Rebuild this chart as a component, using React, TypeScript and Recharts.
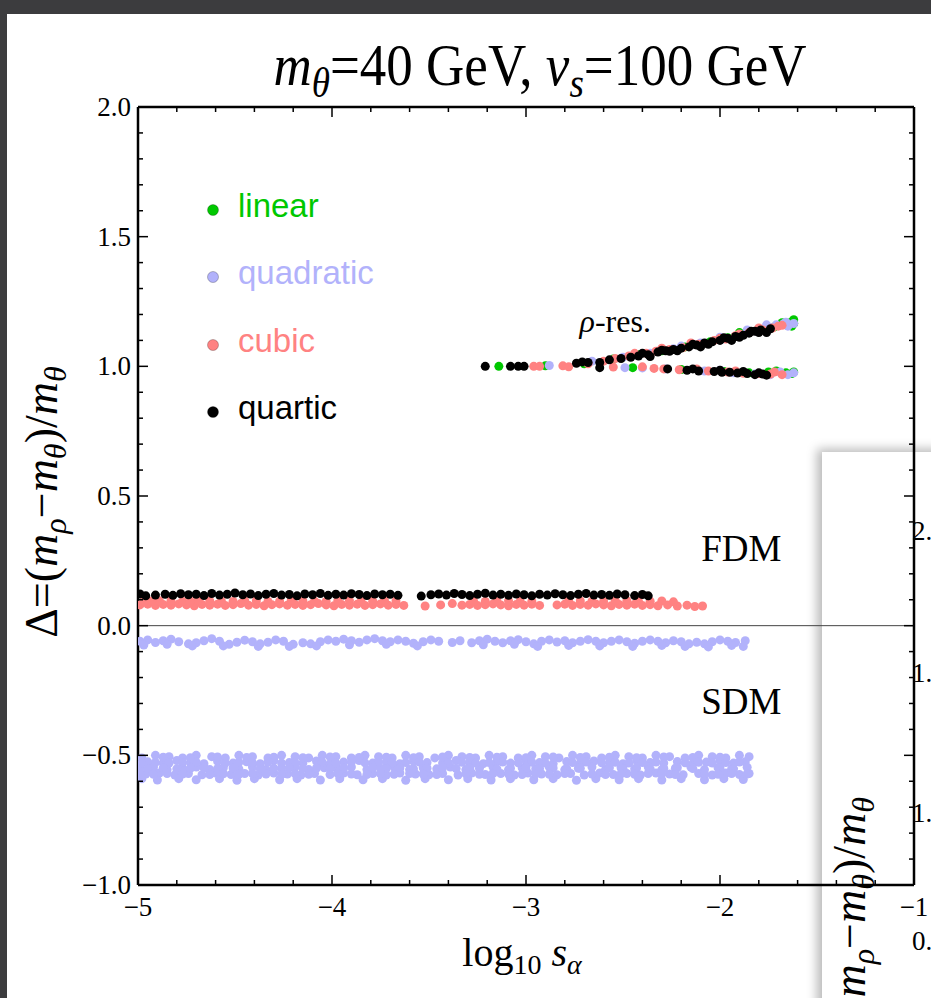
import React from "react";
import {
  ScatterChart,
  Scatter,
  XAxis,
  YAxis,
  ReferenceLine,
  ReferenceDot,
  Legend,
} from "recharts";

const SERIF = '"Liberation Serif", "Times New Roman", serif';
const SANS = '"Liberation Sans", Arial, sans-serif';

// axis ticks (minor + major) and labels
const xTicks = [-5, -4.8, -4.6, -4.4, -4.2, -4, -3.8, -3.6, -3.4, -3.2, -3, -2.8, -2.6, -2.4, -2.2, -2, -1.8, -1.6, -1.4, -1.2, -1];
const xMajor = [-5, -4, -3, -2, -1];
const xLabels = ["\u22125", "\u22124", "\u22123", "\u22122", "\u22121"];
const yTicks = [-1, -0.9, -0.8, -0.7, -0.6, -0.5, -0.4, -0.3, -0.2, -0.1, 0, 0.1, 0.2, 0.3, 0.4, 0.5, 0.6, 0.7, 0.8, 0.9, 1, 1.1, 1.2, 1.3, 1.4, 1.5, 1.6, 1.7, 1.8, 1.9, 2];
const yMajor = [-1, -0.5, 0, 0.5, 1, 1.5, 2];
const yLabels = ["\u22121.0", "\u22120.5", "0.0", "0.5", "1.0", "1.5", "2.0"];

const seriesNames = ["linear", "quadratic", "cubic", "quartic"];
const seriesColors = ["#00c800", "#b2b2fb", "#ff8282", "#000000"];

// linear: only the rho-resonance branches
const linearRho = [
  [-3.14, 1.0], [-2.9, 1.002], [-2.7, 1.01], [-2.55, 1.028], [-2.42, 1.045], [-2.3, 1.06], [-2.18, 1.075],
  [-2.05, 1.095], [-1.96, 1.11], [-1.88, 1.125], [-1.79, 1.14], [-1.72, 1.152], [-1.66, 1.16], [-1.63, 1.172],
  [-1.62, 1.18], [-1.63, 1.155], [-1.62, 1.165], [-1.68, 1.168], [-1.9, 1.13],
  [-2.45, 0.995], [-2.2, 0.988], [-1.98, 0.98], [-1.85, 0.975], [-1.75, 0.978],
  [-1.71, 0.982], [-1.66, 0.975], [-1.63, 0.972], [-1.62, 0.978],
];

// quadratic
const quadUpper = [
  [-4.99, -0.06], [-4.95, -0.055], [-4.91, -0.065], [-4.87, -0.058], [-4.83, -0.052], [-4.79, -0.062], [-4.74, -0.07],
  [-4.7, -0.066], [-4.66, -0.058], [-4.62, -0.05], [-4.58, -0.06], [-4.53, -0.072], [-4.49, -0.064], [-4.45, -0.056],
  [-4.41, -0.062], [-4.37, -0.07], [-4.33, -0.064], [-4.29, -0.055], [-4.25, -0.06], [-4.2, -0.072], [-4.15, -0.066],
  [-4.11, -0.07], [-4.06, -0.062], [-4.02, -0.055], [-3.98, -0.06], [-3.94, -0.052], [-3.9, -0.058], [-3.86, -0.064],
  [-3.82, -0.055], [-3.78, -0.05], [-3.74, -0.058], [-3.7, -0.062], [-3.66, -0.055], [-3.62, -0.06], [-3.58, -0.068],
  [-3.53, -0.062], [-3.49, -0.055], [-3.45, -0.06], [-3.38, -0.065], [-3.34, -0.058], [-3.28, -0.066], [-3.24, -0.058],
  [-3.2, -0.052], [-3.16, -0.06], [-3.12, -0.066], [-3.08, -0.058], [-3.04, -0.054], [-3.0, -0.062], [-2.96, -0.07],
  [-2.92, -0.06], [-2.88, -0.055], [-2.84, -0.063], [-2.8, -0.058], [-2.76, -0.066], [-2.72, -0.06], [-2.68, -0.054],
  [-2.64, -0.06], [-2.6, -0.066], [-2.56, -0.06], [-2.52, -0.055], [-2.48, -0.062], [-2.44, -0.068], [-2.4, -0.06],
  [-2.36, -0.055], [-2.32, -0.06], [-2.28, -0.066], [-2.24, -0.058], [-2.2, -0.062], [-2.16, -0.07], [-2.12, -0.064],
  [-2.08, -0.07], [-2.04, -0.062], [-2.0, -0.055], [-1.96, -0.06], [-1.92, -0.065], [-1.87, -0.058],
  [-4.97, -0.075], [-4.85, -0.072], [-4.72, -0.078], [-4.56, -0.078], [-4.38, -0.08], [-4.22, -0.08], [-4.08, -0.078],
  [-3.91, -0.074], [-3.72, -0.072], [-3.56, -0.078], [-3.22, -0.074], [-3.06, -0.072], [-2.94, -0.08], [-2.78, -0.076],
  [-2.62, -0.078], [-2.45, -0.08], [-2.3, -0.076], [-2.18, -0.08], [-2.06, -0.082], [-1.94, -0.076], [-1.88, -0.08],
];

const quadLower = [
  [-4.98, -0.51], [-4.91, -0.5], [-4.84, -0.505], [-4.77, -0.51], [-4.7, -0.5], [-4.62, -0.505], [-4.55, -0.51],
  [-4.48, -0.5], [-4.41, -0.505], [-4.33, -0.51], [-4.26, -0.5], [-4.19, -0.505], [-4.12, -0.51], [-4.05, -0.5],
  [-3.98, -0.505], [-3.9, -0.51], [-3.83, -0.5], [-3.76, -0.505], [-3.69, -0.51], [-3.62, -0.5], [-3.55, -0.505],
  [-3.47, -0.51], [-3.4, -0.5], [-3.33, -0.505], [-3.26, -0.51], [-3.19, -0.5], [-3.12, -0.505], [-3.04, -0.51],
  [-2.97, -0.5], [-2.9, -0.505], [-2.83, -0.51], [-2.76, -0.5], [-2.69, -0.505], [-2.61, -0.51], [-2.54, -0.5],
  [-2.47, -0.505], [-2.4, -0.51], [-2.33, -0.5], [-2.26, -0.505], [-2.18, -0.51], [-2.11, -0.5], [-2.04, -0.505],
  [-1.97, -0.51], [-1.9, -0.5], [-1.85, -0.505],
  [-4.95, -0.525], [-4.87, -0.53], [-4.8, -0.52], [-4.73, -0.528], [-4.66, -0.532], [-4.59, -0.522], [-4.51, -0.53],
  [-4.44, -0.525], [-4.37, -0.532], [-4.3, -0.52], [-4.22, -0.528], [-4.15, -0.53], [-4.08, -0.522], [-4.01, -0.532],
  [-3.94, -0.526], [-3.86, -0.52], [-3.79, -0.53], [-3.72, -0.525], [-3.65, -0.532], [-3.58, -0.522], [-3.51, -0.528],
  [-3.43, -0.53], [-3.36, -0.52], [-3.29, -0.528], [-3.22, -0.532], [-3.15, -0.524], [-3.08, -0.53], [-3.0, -0.52],
  [-2.93, -0.528], [-2.86, -0.532], [-2.79, -0.524], [-2.72, -0.53], [-2.65, -0.522], [-2.57, -0.528], [-2.5, -0.532],
  [-2.43, -0.52], [-2.36, -0.528], [-2.29, -0.53], [-2.22, -0.524], [-2.14, -0.532], [-2.07, -0.526], [-2.0, -0.52],
  [-1.93, -0.53], [-1.87, -0.525],
  [-4.99, -0.55], [-4.92, -0.545], [-4.85, -0.555], [-4.77, -0.55], [-4.7, -0.545], [-4.63, -0.555], [-4.56, -0.548],
  [-4.48, -0.552], [-4.41, -0.545], [-4.34, -0.555], [-4.26, -0.55], [-4.19, -0.545], [-4.12, -0.555], [-4.04, -0.548],
  [-3.97, -0.552], [-3.9, -0.545], [-3.82, -0.555], [-3.75, -0.55], [-3.68, -0.545], [-3.6, -0.555], [-3.53, -0.548],
  [-3.46, -0.552], [-3.39, -0.545], [-3.31, -0.555], [-3.24, -0.55], [-3.17, -0.545], [-3.09, -0.555], [-3.02, -0.548],
  [-2.95, -0.552], [-2.88, -0.545], [-2.8, -0.555], [-2.73, -0.55], [-2.66, -0.545], [-2.59, -0.555], [-2.51, -0.548],
  [-2.44, -0.552], [-2.37, -0.545], [-2.3, -0.555], [-2.23, -0.55], [-2.15, -0.545], [-2.08, -0.555], [-2.01, -0.548],
  [-1.94, -0.552], [-1.86, -0.546],
  [-4.96, -0.572], [-4.89, -0.568], [-4.81, -0.576], [-4.74, -0.57], [-4.67, -0.575], [-4.6, -0.568], [-4.52, -0.574],
  [-4.45, -0.57], [-4.38, -0.576], [-4.3, -0.568], [-4.23, -0.572], [-4.16, -0.576], [-4.09, -0.57], [-4.01, -0.574],
  [-3.94, -0.568], [-3.87, -0.575], [-3.79, -0.57], [-3.72, -0.576], [-3.65, -0.568], [-3.57, -0.572], [-3.5, -0.575],
  [-3.43, -0.57], [-3.35, -0.576], [-3.28, -0.568], [-3.21, -0.574], [-3.13, -0.57], [-3.06, -0.576], [-2.99, -0.568],
  [-2.92, -0.572], [-2.84, -0.575], [-2.77, -0.57], [-2.7, -0.576], [-2.62, -0.568], [-2.55, -0.574], [-2.48, -0.57],
  [-2.41, -0.576], [-2.33, -0.568], [-2.26, -0.572], [-2.19, -0.575], [-2.11, -0.57], [-2.04, -0.576], [-1.97, -0.568],
  [-1.9, -0.574], [-1.85, -0.57],
  [-4.98, -0.59], [-4.9, -0.595], [-4.79, -0.59], [-4.7, -0.594], [-4.58, -0.59], [-4.49, -0.596], [-4.4, -0.59],
  [-4.27, -0.594], [-4.18, -0.59], [-4.06, -0.595], [-3.96, -0.59], [-3.84, -0.594], [-3.74, -0.59], [-3.62, -0.596],
  [-3.52, -0.59], [-3.4, -0.594], [-3.3, -0.59], [-3.18, -0.595], [-3.08, -0.59], [-2.96, -0.594], [-2.86, -0.59],
  [-2.74, -0.596], [-2.64, -0.59], [-2.52, -0.594], [-2.42, -0.59], [-2.3, -0.595], [-2.2, -0.59], [-2.08, -0.594],
  [-1.98, -0.59], [-1.88, -0.593],
];

// extra points that thicken the lower quadratic band
const quadLowerFill = [
  [-4.87, -0.507], [-4.73, -0.509], [-4.59, -0.506], [-4.44, -0.508], [-4.3, -0.507], [-4.15, -0.509], [-4.01, -0.506],
  [-3.86, -0.508], [-3.72, -0.507], [-3.58, -0.509], [-3.43, -0.506], [-3.29, -0.508], [-3.15, -0.507], [-3.0, -0.509],
  [-2.86, -0.506], [-2.72, -0.508], [-2.57, -0.507], [-2.43, -0.509], [-2.29, -0.506], [-2.14, -0.508], [-2.0, -0.507],
  [-4.98, -0.529], [-4.91, -0.527], [-4.84, -0.53], [-4.77, -0.528], [-4.7, -0.526], [-4.55, -0.53], [-4.48, -0.527],
  [-4.41, -0.529], [-4.33, -0.526], [-4.26, -0.53], [-4.19, -0.528], [-4.05, -0.527], [-3.98, -0.53], [-3.9, -0.526],
  [-3.83, -0.529], [-3.76, -0.527], [-3.69, -0.53], [-3.62, -0.528], [-3.55, -0.526], [-3.4, -0.529], [-3.33, -0.527],
  [-3.26, -0.53], [-3.19, -0.528], [-3.12, -0.526], [-3.04, -0.529], [-2.97, -0.527], [-2.9, -0.53], [-2.76, -0.528],
  [-2.69, -0.526], [-2.61, -0.529], [-2.54, -0.527], [-2.47, -0.53], [-2.4, -0.528], [-2.33, -0.526], [-2.18, -0.529],
  [-2.11, -0.527], [-2.04, -0.53], [-1.97, -0.528], [-1.9, -0.526],
  [-4.95, -0.551], [-4.87, -0.549], [-4.8, -0.552], [-4.73, -0.55], [-4.66, -0.548], [-4.59, -0.551], [-4.51, -0.549],
  [-4.37, -0.552], [-4.3, -0.55], [-4.22, -0.548], [-4.15, -0.551], [-4.08, -0.549], [-4.01, -0.552], [-3.94, -0.55],
  [-3.79, -0.548], [-3.72, -0.551], [-3.65, -0.549], [-3.58, -0.552], [-3.51, -0.55], [-3.43, -0.548], [-3.36, -0.551],
  [-3.29, -0.549], [-3.15, -0.552], [-3.08, -0.55], [-3.0, -0.548], [-2.93, -0.551], [-2.86, -0.549], [-2.79, -0.552],
  [-2.72, -0.55], [-2.57, -0.548], [-2.5, -0.551], [-2.43, -0.549], [-2.36, -0.552], [-2.29, -0.55], [-2.22, -0.548],
  [-2.14, -0.551], [-2.0, -0.549], [-1.93, -0.552],
  [-4.99, -0.571], [-4.92, -0.573], [-4.85, -0.57], [-4.77, -0.572], [-4.63, -0.574], [-4.56, -0.571], [-4.48, -0.573],
  [-4.41, -0.57], [-4.34, -0.572], [-4.26, -0.574], [-4.19, -0.571], [-4.12, -0.573], [-3.97, -0.57], [-3.9, -0.572],
  [-3.82, -0.574], [-3.75, -0.571], [-3.68, -0.573], [-3.6, -0.57], [-3.53, -0.572], [-3.46, -0.574], [-3.31, -0.571],
  [-3.24, -0.573], [-3.17, -0.57], [-3.09, -0.572], [-3.02, -0.574], [-2.95, -0.571], [-2.88, -0.573], [-2.8, -0.57],
  [-2.66, -0.572], [-2.59, -0.574], [-2.51, -0.571], [-2.44, -0.573], [-2.37, -0.57], [-2.3, -0.572], [-2.23, -0.574],
  [-2.08, -0.571], [-2.01, -0.573], [-1.94, -0.57], [-1.86, -0.572],
];

const quadRho = [
  [-2.88, 1.003], [-2.66, 1.02], [-2.49, 0.995], [-2.4, 0.994], [-2.36, 1.05], [-2.24, 1.068], [-2.1, 1.09],
  [-1.99, 1.105], [-1.9, 1.12], [-1.81, 1.135], [-1.74, 1.15], [-1.71, 1.16], [-1.67, 1.165], [-1.65, 1.155],
  [-2.5, 1.035], [-2.2, 1.078], [-2.0, 1.112], [-1.86, 1.14], [-1.76, 1.16], [-1.66, 1.17], [-1.62, 1.165],
  [-2.28, 0.99], [-2.08, 0.982], [-1.93, 0.975], [-1.82, 0.97], [-1.69, 0.978], [-1.65, 0.968],
  [-2.0, 0.985], [-1.74, 0.968], [-1.62, 0.975],
];

// cubic
const cubicBand = [
  [-4.99, 0.08], [-4.95, 0.083], [-4.91, 0.078], [-4.87, 0.082], [-4.83, 0.079], [-4.79, 0.084], [-4.75, 0.08],
  [-4.71, 0.077], [-4.67, 0.082], [-4.63, 0.079], [-4.59, 0.083], [-4.55, 0.078], [-4.51, 0.081], [-4.47, 0.085],
  [-4.43, 0.079], [-4.39, 0.082], [-4.35, 0.077], [-4.31, 0.081], [-4.27, 0.084], [-4.23, 0.079], [-4.19, 0.082],
  [-4.15, 0.078], [-4.11, 0.081], [-4.07, 0.085], [-4.03, 0.08], [-3.99, 0.077], [-3.95, 0.082], [-3.91, 0.079],
  [-3.87, 0.083], [-3.83, 0.078], [-3.79, 0.081], [-3.75, 0.084], [-3.71, 0.079], [-3.67, 0.082], [-3.63, 0.078],
  [-3.52, 0.076], [-3.44, 0.08], [-3.38, 0.085], [-3.33, 0.079], [-3.29, 0.082], [-3.25, 0.078], [-3.21, 0.081],
  [-3.17, 0.084], [-3.13, 0.08], [-3.09, 0.077], [-3.05, 0.082], [-3.01, 0.079], [-2.97, 0.083], [-2.93, 0.078],
  [-2.84, 0.08], [-2.8, 0.083], [-2.76, 0.078], [-2.72, 0.082], [-2.68, 0.079], [-2.64, 0.084], [-2.6, 0.08],
  [-2.56, 0.077], [-2.52, 0.082], [-2.48, 0.079], [-2.44, 0.083], [-2.4, 0.078], [-2.36, 0.081], [-2.32, 0.077],
  [-2.27, 0.08], [-2.22, 0.076], [-2.17, 0.079], [-2.13, 0.074], [-2.09, 0.076],
  [-4.97, 0.094], [-4.89, 0.096], [-4.77, 0.093], [-4.69, 0.097], [-4.57, 0.094], [-4.45, 0.096], [-4.33, 0.093],
  [-4.21, 0.097], [-4.09, 0.094], [-3.97, 0.096], [-3.85, 0.093], [-3.73, 0.097], [-3.27, 0.094], [-3.15, 0.096],
  [-3.03, 0.093], [-2.78, 0.096], [-2.66, 0.094], [-2.54, 0.097], [-2.42, 0.093], [-2.3, 0.095],
  [-4.93, 0.095], [-4.83, 0.096], [-4.73, 0.094], [-4.63, 0.095], [-4.51, 0.093], [-4.39, 0.096], [-4.27, 0.094],
  [-4.15, 0.095], [-4.03, 0.093], [-3.91, 0.096], [-3.79, 0.094], [-3.67, 0.095], [-3.21, 0.093], [-3.09, 0.096],
  [-2.97, 0.094], [-2.72, 0.095], [-2.6, 0.093], [-2.48, 0.096], [-2.36, 0.094], [-2.24, 0.092],
];

const cubicRho = [
  [-2.96, 1.0], [-2.93, 1.0], [-2.81, 1.002], [-2.78, 0.998], [-2.68, 1.01], [-2.6, 1.02], [-2.54, 1.03],
  [-2.47, 1.04], [-2.38, 1.05], [-2.33, 1.058], [-2.26, 1.065], [-2.19, 1.072], [-2.11, 1.085], [-2.03, 1.1],
  [-1.97, 1.105], [-1.92, 1.118], [-1.85, 1.13], [-1.78, 1.14], [-1.73, 1.148], [-1.68, 1.158],
  [-2.44, 1.05], [-2.3, 1.07], [-2.15, 1.09], [-2.0, 1.108], [-1.9, 1.125], [-1.8, 1.148], [-1.7, 1.155],
  [-2.55, 0.997], [-2.34, 0.992], [-2.29, 0.99], [-2.21, 0.987], [-2.06, 0.982], [-1.96, 0.978], [-1.88, 0.973],
  [-1.8, 0.972], [-1.74, 0.97], [-1.68, 0.968], [-2.4, 0.998], [-2.12, 0.99], [-1.92, 0.982], [-1.72, 0.978],
];

// quartic
const quarticBand = [
  [-4.99, 0.122], [-4.96, 0.115], [-4.91, 0.118], [-4.86, 0.121], [-4.82, 0.117], [-4.78, 0.123], [-4.74, 0.119],
  [-4.7, 0.121], [-4.66, 0.116], [-4.62, 0.124], [-4.58, 0.118], [-4.54, 0.121], [-4.5, 0.126], [-4.46, 0.119],
  [-4.42, 0.122], [-4.38, 0.116], [-4.34, 0.121], [-4.3, 0.124], [-4.26, 0.118], [-4.22, 0.12], [-4.18, 0.115],
  [-4.14, 0.122], [-4.1, 0.119], [-4.06, 0.124], [-4.02, 0.117], [-3.98, 0.121], [-3.94, 0.118], [-3.9, 0.123],
  [-3.86, 0.12], [-3.82, 0.116], [-3.78, 0.122], [-3.74, 0.119], [-3.7, 0.121], [-3.66, 0.117], [-3.54, 0.114],
  [-3.49, 0.119], [-3.45, 0.122], [-3.41, 0.118], [-3.37, 0.124], [-3.33, 0.12], [-3.29, 0.116], [-3.25, 0.121],
  [-3.21, 0.125], [-3.17, 0.118], [-3.13, 0.121], [-3.09, 0.117], [-3.05, 0.122], [-3.01, 0.119], [-2.97, 0.115],
  [-2.93, 0.121], [-2.89, 0.118], [-2.85, 0.123], [-2.81, 0.119], [-2.77, 0.116], [-2.73, 0.121], [-2.69, 0.124],
  [-2.65, 0.118], [-2.61, 0.12], [-2.57, 0.117], [-2.53, 0.122], [-2.49, 0.119], [-2.44, 0.116], [-2.4, 0.12],
  [-2.37, 0.115],
];

const quarticRho = [
  [-3.21, 1.0], [-3.08, 1.0], [-3.04, 1.0], [-3.01, 1.0], [-2.74, 1.012], [-2.71, 1.017], [-2.68, 1.015],
  [-2.62, 1.015], [-2.62, 0.995], [-2.57, 1.025], [-2.51, 1.03], [-2.46, 1.035], [-2.42, 1.04], [-2.37, 1.045],
  [-2.32, 1.055], [-2.28, 1.06], [-2.24, 1.065], [-2.2, 1.07], [-2.16, 1.075], [-2.12, 1.082], [-2.08, 1.09],
  [-2.04, 1.095], [-2.0, 1.1], [-1.96, 1.108], [-1.92, 1.115], [-1.88, 1.12], [-1.85, 1.128], [-1.82, 1.135],
  [-1.79, 1.14], [-1.76, 1.13], [-1.74, 1.145],
  [-2.4, 1.05], [-2.3, 1.062], [-2.22, 1.06], [-2.14, 1.085], [-2.06, 1.085], [-1.98, 1.11], [-1.9, 1.112],
  [-1.84, 1.135], [-1.8, 1.13], [-1.94, 1.1], [-2.1, 1.075], [-2.26, 1.058], [-2.36, 1.038],
  [-2.27, 0.99], [-2.17, 0.985], [-2.11, 0.982], [-2.03, 0.98], [-1.99, 0.977], [-1.95, 0.977], [-1.91, 0.974],
  [-1.86, 0.972], [-1.82, 0.968], [-1.78, 0.97], [-1.76, 0.966], [-2.0, 0.985], [-1.88, 0.98], [-1.8, 0.975],
  [-2.14, 0.99],
];

const toPts = (arr: number[][]) => arr.map(([x, y]) => ({ x, y }));

const seriesData = [
  toPts(linearRho),
  toPts([...quadUpper, ...quadLower, ...quadLowerFill, ...quadRho]),
  toPts([...cubicBand, ...cubicRho]),
  toPts([...quarticBand, ...quarticRho]),
];

const near = (a: number, b: number) => Math.abs(a - b) < 1e-6;
const majorIndex = (v: number, majors: number[]) => majors.findIndex((m) => near(m, v));

const MAJOR = 10;
const MINOR = 5;

function BottomTick(p: any) {
  const i = majorIndex(p.payload.value, xMajor);
  return (
    <g>
      <line x1={p.x} x2={p.x} y1={p.y} y2={p.y - (i >= 0 ? MAJOR : MINOR)} stroke="#000" strokeWidth={1.5} />
      {i >= 0 && (
        <text x={p.x} y={p.y + 31} textAnchor="middle" fontFamily={SERIF} fontSize={27} fill="#000">
          {xLabels[i]}
        </text>
      )}
    </g>
  );
}

function TopTick(p: any) {
  const i = majorIndex(p.payload.value, xMajor);
  return <line x1={p.x} x2={p.x} y1={p.y} y2={p.y + (i >= 0 ? MAJOR : MINOR)} stroke="#000" strokeWidth={1.5} />;
}

function LeftTick(p: any) {
  const i = majorIndex(p.payload.value, yMajor);
  return (
    <g>
      <line x1={p.x} x2={p.x + (i >= 0 ? MAJOR : MINOR)} y1={p.y} y2={p.y} stroke="#000" strokeWidth={1.5} />
      {i >= 0 && (
        <text x={p.x - 7} y={p.y + 9} textAnchor="end" fontFamily={SERIF} fontSize={27} fill="#000">
          {yLabels[i]}
        </text>
      )}
    </g>
  );
}

function RightTick(p: any) {
  const i = majorIndex(p.payload.value, yMajor);
  return <line x1={p.x} x2={p.x - (i >= 0 ? MAJOR : MINOR)} y1={p.y} y2={p.y} stroke="#000" strokeWidth={1.5} />;
}

const dotShape = (color: string) => (p: any) => <circle cx={p.cx} cy={p.cy} r={4.5} fill={color} />;

function renderLegend(props: any) {
  const items = [...(props.payload ?? [])].sort(
    (a: any, b: any) => seriesNames.indexOf(a.value) - seriesNames.indexOf(b.value)
  );
  return (
    <div style={{ display: "flex", flexDirection: "column" }}>
      {items.map((e: any) => {
        const idx = seriesNames.indexOf(e.value);
        const color = idx >= 0 ? seriesColors[idx] : e.color;
        return (
          <div key={e.value} style={{ height: 67.5, display: "flex", alignItems: "center" }}>
            <svg width={24} height={24}>
              <circle cx={12} cy={12} r={5.5} fill={color} stroke="rgba(0,0,0,0.3)" strokeWidth={0.8} />
            </svg>
            <span
              style={{
                marginLeft: 13,
                fontFamily: SANS,
                fontSize: 33,
                color,
                position: "relative",
                top: -4,
                whiteSpace: "nowrap",
              }}
            >
              {e.value}
            </span>
          </div>
        );
      })}
    </div>
  );
}

const rhoLabel = (p: any) => (
  <text x={p.viewBox.x} y={p.viewBox.y + 10} textAnchor="middle" fontFamily={SERIF} fontSize={32} fill="#000">
    <tspan fontStyle="italic">ρ</tspan>-res.
  </text>
);

const sub = { fontSize: "0.7em", verticalAlign: "-0.28em", lineHeight: 0 } as const;

const frameLine = { stroke: "#000", strokeWidth: 2.5 };

export default function App() {
  return (
    <div
      style={{
        position: "absolute",
        left: 0,
        top: 0,
        width: 931,
        height: 998,
        overflow: "hidden",
        background: "#3c3c3e",
      }}
    >
      <div style={{ position: "absolute", left: 7, top: 14, right: 0, bottom: 0, background: "#fff" }} />

      {/* second figure peeking out underneath */}
      <div
        style={{
          position: "absolute",
          left: 822,
          top: 452,
          width: 160,
          height: 600,
          background: "#fff",
          boxShadow: "-5px -3px 10px rgba(0,0,0,0.28)",
        }}
      >
        <svg width={160} height={600}>
          <g fontFamily={SERIF} fontSize={27} fill="#000">
            <text x={90} y={88}>2.</text>
            <text x={90} y={230}>1.</text>
            <text x={90} y={370}>1.</text>
            <text x={90} y={498}>0.</text>
          </g>
          <text transform="translate(43,345) rotate(-90)" textAnchor="end" fontFamily={SERIF} fontSize={46} fill="#000">
            Δ=(<tspan fontStyle="italic">m</tspan>
            <tspan fontStyle="italic" fontSize={32} dy={9}>ρ</tspan>
            <tspan dy={-9}>−</tspan>
            <tspan fontStyle="italic">m</tspan>
            <tspan fontStyle="italic" fontSize={32} dy={9}>θ</tspan>
            <tspan dy={-9}>)/</tspan>
            <tspan fontStyle="italic">m</tspan>
            <tspan fontStyle="italic" fontSize={32} dy={9}>θ</tspan>
          </text>
        </svg>
      </div>

      <div style={{ position: "absolute", left: 0, top: 0 }}>
        <ScatterChart width={931} height={998} margin={{ top: 106, right: 16, bottom: 112, left: 137 }}>
          <XAxis
            xAxisId="b"
            dataKey="x"
            type="number"
            domain={[-5, -1]}
            ticks={xTicks}
            interval={0}
            height={1}
            tickSize={0}
            tickMargin={0}
            tickLine={false}
            axisLine={frameLine}
            tick={BottomTick}
            allowDataOverflow
          />
          <XAxis
            xAxisId="t"
            orientation="top"
            dataKey="x"
            type="number"
            domain={[-5, -1]}
            ticks={xTicks}
            interval={0}
            height={1}
            tickSize={0}
            tickMargin={0}
            tickLine={false}
            axisLine={frameLine}
            tick={TopTick}
            allowDataOverflow
          />
          <YAxis
            yAxisId="l"
            dataKey="y"
            type="number"
            domain={[-1, 2]}
            ticks={yTicks}
            interval={0}
            width={1}
            tickSize={0}
            tickMargin={0}
            tickLine={false}
            axisLine={frameLine}
            tick={LeftTick}
            allowDataOverflow
          />
          <YAxis
            yAxisId="r"
            orientation="right"
            dataKey="y"
            type="number"
            domain={[-1, 2]}
            ticks={yTicks}
            interval={0}
            width={1}
            tickSize={0}
            tickMargin={0}
            tickLine={false}
            axisLine={frameLine}
            tick={RightTick}
            allowDataOverflow
          />
          <ReferenceLine xAxisId="b" yAxisId="l" y={0} stroke="#444" strokeWidth={1} />
          {seriesNames.map((name, i) => (
            <Scatter
              key={name}
              name={name}
              xAxisId="b"
              yAxisId="l"
              data={seriesData[i]}
              fill={seriesColors[i]}
              shape={dotShape(seriesColors[i])}
              isAnimationActive={false}
            />
          ))}
          <ReferenceDot xAxisId="b" yAxisId="l" x={-2.54} y={1.17} r={0} fill="none" stroke="none" label={rhoLabel} />
          <ReferenceDot
            xAxisId="b"
            yAxisId="l"
            x={-1.89}
            y={0.3}
            r={0}
            fill="none"
            stroke="none"
            label={{ value: "FDM", position: "center", fontFamily: SERIF, fontSize: 37, fill: "#000" }}
          />
          <ReferenceDot
            xAxisId="b"
            yAxisId="l"
            x={-1.89}
            y={-0.29}
            r={0}
            fill="none"
            stroke="none"
            label={{ value: "SDM", position: "center", fontFamily: SERIF, fontSize: 37, fill: "#000" }}
          />
          <Legend
            layout="horizontal"
            verticalAlign="middle"
            align="center"
            content={renderLegend}
            wrapperStyle={{ left: 201, top: 176, width: 260, height: 270 }}
          />
        </ScatterChart>
      </div>

      <div
        style={{
          position: "absolute",
          left: 140,
          width: 800,
          top: 36,
          textAlign: "center",
          fontFamily: SERIF,
          fontSize: 53,
          lineHeight: "58px",
          whiteSpace: "nowrap",
          transform: "scale(1, 1.12)",
        }}
      >
        <i>m</i>
        <i style={sub}>θ</i>=40 GeV, <i>v</i>
        <i style={sub}>s</i>=100 GeV
      </div>

      <div
        style={{
          position: "absolute",
          left: 322,
          width: 400,
          top: 930,
          textAlign: "center",
          fontFamily: SERIF,
          fontSize: 40,
          lineHeight: "46px",
          whiteSpace: "nowrap",
        }}
      >
        log<span style={sub}>10</span> <i>s</i>
        <i style={sub}>α</i>
      </div>

      <div
        style={{
          position: "absolute",
          left: 42,
          top: 502,
          transform: "translate(-50%, -50%) rotate(-90deg)",
          fontFamily: SERIF,
          fontSize: 46,
          lineHeight: "50px",
          whiteSpace: "nowrap",
        }}
      >
        Δ=(<i>m</i>
        <i style={sub}>ρ</i>−<i>m</i>
        <i style={sub}>θ</i>)/<i>m</i>
        <i style={sub}>θ</i>
      </div>
    </div>
  );
}
